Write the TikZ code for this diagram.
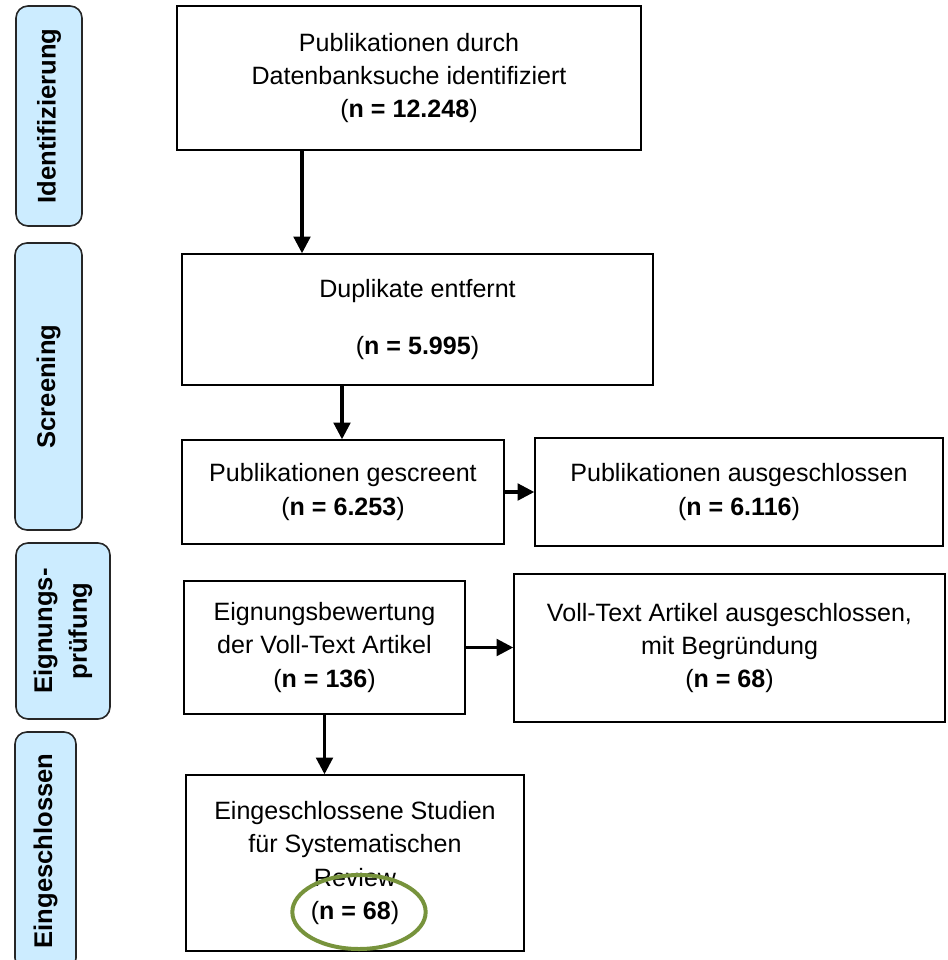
\documentclass[tikz,border=0pt]{standalone}
\usepackage{fontspec}
\setmainfont{Liberation Sans}
\usetikzlibrary{arrows.meta, shapes.geometric}
\definecolor{phasefill}{RGB}{204,236,255}
\definecolor{markgreen}{RGB}{119,147,60}

\begin{document}
\begin{tikzpicture}[x=0.75pt, y=-0.75pt,
        box/.style={draw, line width=1.1pt, align=center, inner sep=2pt,
            font=\fontsize{18.8}{24.8}\selectfont},
        phasebox/.style={draw=black!85, fill=phasefill, line width=1.2pt, rounded corners=9pt,
            rotate=90, align=center, inner sep=0pt, font=\fontsize{19.2}{26}\selectfont\bfseries},
        arr/.style={line width=2.3pt, -{Triangle[width=12.5pt,length=12.5pt]}}]
        \useasboundingbox (0,0) rectangle (947,960);

        % phases on the left
        \node[phasebox, minimum width=165pt, minimum height=49.5pt] (ident) at (49,116) {Identifizierung};
        \node[phasebox, minimum width=215.25pt, minimum height=50.25pt] (screen) at (48.5,386.5) {Screening};
        \node[phasebox, minimum width=132pt, minimum height=70.5pt] (elig) at (63,631) {Eignungs-\\prüfung};
        \node[phasebox, minimum width=178.5pt, minimum height=45.75pt] (incl) at (45.5,851) {Eingeschlossen};

        % flow boxes
        \node[box, minimum width=348pt, minimum height=108pt] (found) at (409,78) {Publikationen durch\\Datenbanksuche identifiziert\\(\textbf{n = 12.248})};
        \node[box, minimum width=353.25pt, minimum height=98.25pt] (dupl) at (417.5,319.5) {Duplikate entfernt\\[18pt](\textbf{n = 5.995})};
        \node[box, minimum width=241.5pt, minimum height=78pt] (screened) at (343,492) {Publikationen gescreent\\(\textbf{n = 6.253})};
        \node[box, minimum width=306pt, minimum height=81pt] (excl) at (739,492) {Publikationen ausgeschlossen\\(\textbf{n = 6.116})};
        \node[box, minimum width=210.75pt, minimum height=99.75pt] (full) at (324.5,647.5) {Eignungsbewertung\\der Voll-Text Artikel\\(\textbf{n = 136})};
        \node[box, minimum width=323.25pt, minimum height=111pt] (fullexcl) at (729.5,648) {Voll-Text Artikel ausgeschlossen,\\mit Begründung\\(\textbf{n = 68})};
        \node[box, minimum width=253.5pt, minimum height=132pt] (studies) at (355,863) {Eingeschlossene Studien\\für Systematischen\\Review\\(\textbf{n = 68})};

        \coordinate (c1) at (302,0);
        \coordinate (c2) at (342,0);

        \draw[arr] (found.south -| c1) -- (dupl.north -| c1);
        \draw[arr] (dupl.south -| c2) -- (screened.north -| c2);
        \draw[arr] (screened.east) -- (excl.west);
        \draw[arr] (full.east) -- (full.east -| fullexcl.west);
        \draw[arr] (full.south) -- (full.south |- studies.north);

        % green mark
        \node[ellipse, draw=markgreen, line width=3pt, minimum width=100pt, minimum height=55.5pt, inner sep=0pt] (mark) at (359,912) {};
    \end{tikzpicture}
\end{document}
